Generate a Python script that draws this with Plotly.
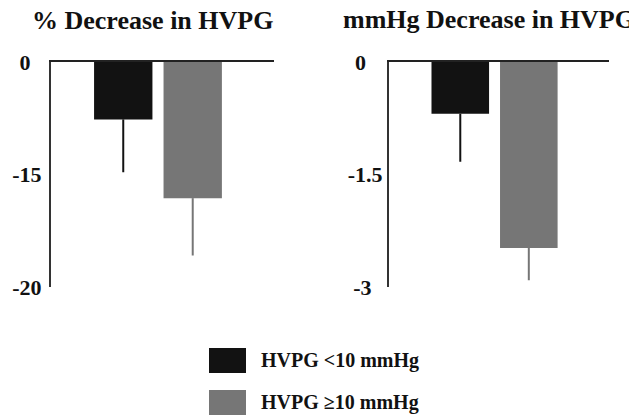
import plotly.graph_objects as go

# the page body has an 8px margin, so the figure starts 8px in from the top-left
OFF = 8
W, H = 637 - OFF, 418 - OFF

groups = ["HVPG <10 mmHg", "HVPG ≥10 mmHg"]
colors = ["#121212", "#767676"]

FS = "\u2007"  # figure space, used to centre short tick labels like the original
pct_values = [-5.1, -12.1]
pct_err = [4.7, 5.1]
pct_tickvals = [0, -10, -20]
pct_ticktext = ["0" + FS, "-15", "-20"]

mm_values = [-0.69, -2.48]
mm_err = [0.64, 0.43]
mm_tickvals = [0, -1.5, -3]
mm_ticktext = ["0" + FS + "\u2008", "-1.5", "-3" + FS]

titles = ["% Decrease in HVPG", "mmHg Decrease in HVPG"]

serif = "Liberation Serif"

fig = go.Figure()

panels = [
    ("x", "y", pct_values, pct_err),
    ("x2", "y2", mm_values, mm_err),
]
for xa, ya, vals, errs in panels:
    for i, (g, c) in enumerate(zip(groups, colors)):
        fig.add_trace(go.Bar(
            x=[i], y=[vals[i]], width=[0.84],
            marker=dict(color=c, line=dict(width=0)),
            error_y=dict(type="data", symmetric=False, array=[0], arrayminus=[errs[i]],
                         color=c, thickness=2, width=0),
            xaxis=xa, yaxis=ya, showlegend=False, name=g,
        ))

def px2x(p):
    return (p - OFF) / W

def px2y(p):
    return 1 - (p - OFF) / H

xrange_ = [-1.04, 2.17]
common_x = dict(range=xrange_, showgrid=False, zeroline=False, showticklabels=False,
                ticks="", showline=True, linecolor="#222", linewidth=2, side="top",
                fixedrange=True, automargin=False)
common_y = dict(showgrid=False, zeroline=False, ticks="", showline=True,
                linecolor="#333", linewidth=2, fixedrange=True, automargin=False,
                tickfont=dict(family=serif, size=22, color="#111", weight="bold"))

ydom = [px2y(287), px2y(62)]
fig.update_layout(
    width=W, height=H,
    margin=dict(l=0, r=0, t=0, b=0, pad=0),
    paper_bgcolor="white", plot_bgcolor="white",
    xaxis=dict(domain=[px2x(51), px2x(274)], anchor="y", **common_x),
    yaxis=dict(domain=ydom, anchor="x", range=[-20, 0], tickvals=pct_tickvals,
               ticktext=pct_ticktext, ticklabelstandoff=3, **common_y),
    xaxis2=dict(domain=[px2x(389), px2x(609)], anchor="y2", **common_x),
    yaxis2=dict(domain=ydom, anchor="x2", range=[-3, 0], tickvals=mm_tickvals,
                ticktext=mm_ticktext, ticklabelstandoff=0, **common_y),
    bargap=0.2,
)

# titles
for t, cx, cy in [(titles[0], 152, 20), (titles[1], 489, 19)]:
    fig.add_annotation(text=t, x=px2x(cx), y=px2y(cy), xref="paper", yref="paper",
                       xanchor="center", yanchor="middle", showarrow=False, borderpad=0,
                       font=dict(family=serif, size=26, color="#111", weight="bold"))

# legend
for g, c, ytop in [(groups[0], colors[0], 348), (groups[1], colors[1], 390)]:
    fig.add_shape(type="rect", xref="paper", yref="paper",
                  x0=px2x(209), x1=px2x(246), y0=px2y(ytop + 25), y1=px2y(ytop),
                  fillcolor=c, line=dict(width=0))
    fig.add_annotation(text=g, x=px2x(259), y=px2y(ytop + 12), xref="paper", yref="paper",
                       xanchor="left", yanchor="middle", showarrow=False,
                       font=dict(family=serif, size=20, color="#111", weight="bold"))

fig.write_html("out.html")
